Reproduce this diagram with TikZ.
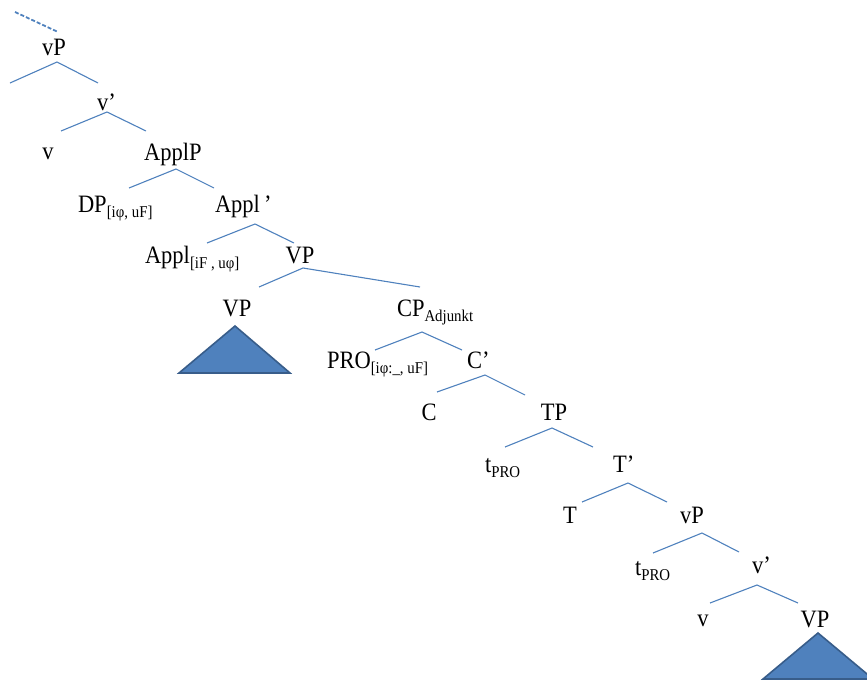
\documentclass[tikz,border=0pt]{standalone}
\usepackage{fontspec}
\setmainfont[FakeStretch=0.9]{Liberation Serif}
\definecolor{lineblue}{RGB}{79,129,189}
\definecolor{triborder}{RGB}{56,93,138}
\newcommand{\lbsub}[1]{\raisebox{-5pt}{\fontsize{16.5}{16.5}\selectfont #1}}
\begin{document}
\begin{tikzpicture}[x=1pt,y=-1pt,
  lbl/.style={inner sep=0pt,outer sep=0pt,font=\fontsize{25}{25}\selectfont,anchor=base},
  lblw/.style={lbl,anchor=base west},
  branch/.style={draw=lineblue,line width=1.1pt},
  tri/.style={fill=lineblue,draw=triborder,line width=1.6pt,line join=miter}]
\useasboundingbox (0,0) rectangle (867,680);
\clip (0,0) rectangle (867,680);
% labels
\node[lbl] (vP1) at (54,55) {vP};
\node[lblw] (vbar1) at (97,110) {v’};
\node[lbl] (v1) at (48,159) {v};
\node[lbl] (ApplP) at (173,160) {ApplP};
\node[lblw] (DP) at (78,212) {DP\lbsub{[iφ, uF]}};
\node[lblw] (Applbar) at (215,212) {Appl\,’};
\node[lblw] (Appl) at (145,263) {Appl\lbsub{[iF , uφ]}};
\node[lbl] (VP1) at (300,263) {VP};
\node[lbl] (VP2) at (237,316) {VP};
\node[lblw] (CP) at (397,316) {CP\lbsub{Adjunkt}};
\node[lblw] (PRO) at (327,368) {PRO\lbsub{[iφ:\_, uF]}};
\node[lblw] (Cbar) at (467,368) {C’};
\node[lbl] (C) at (429,420) {C};
\node[lbl] (TP) at (554,420) {TP};
\node[lblw] (t1) at (485,472) {t\lbsub{PRO}};
\node[lblw] (Tbar) at (613,472) {T’};
\node[lbl] (T) at (570,523) {T};
\node[lblw] (vP2) at (680,523) {vP};
\node[lblw] (t2) at (635,575) {t\lbsub{PRO}};
\node[lblw] (vbar2) at (752,573) {v’};
\node[lbl] (v2) at (703,626) {v};
\node[lbl] (VP3) at (815,627) {VP};
% dashed line at top
\coordinate (d0) at (15,12);
\coordinate (d1) at (58,32);
\draw[branch,line width=1.8pt,dash pattern=on 4pt off 2pt] (d0) -- (d1);
% branch coordinates: apex, left, right
\foreach \n/\ax/\ay/\lx/\ly/\rx/\ry in {
  a/57/62/10/83/98/83,
  b/107/112/61/131/146/131,
  c/176/169/129/188/214/188,
  d/255/224/207/243/294/243,
  e/303/268/259/287/420/287,
  f/422/332/375/350/462/350,
  g/485/375/437/392/525/395,
  h/552/428/505/447/593/447,
  i/628/483/582/502/667/502,
  j/702/533/653/553/739/552,
  k/757/585/710/603/798/603}{
  \coordinate (\n top) at (\ax,\ay);
  \coordinate (\n L) at (\lx,\ly);
  \coordinate (\n R) at (\rx,\ry);
  \draw[branch] (\n L) -- (\n top) -- (\n R);
}
% triangles
\coordinate (t1a) at (235,326);
\coordinate (t1l) at (179,373);
\coordinate (t1r) at (290,373);
\draw[tri] (t1a) -- (t1l) -- (t1r) -- cycle;
\coordinate (t2a) at (818,633);
\coordinate (t2l) at (763,679);
\coordinate (t2r) at (873,679);
\draw[tri] (t2a) -- (t2l) -- (t2r) -- cycle;
\end{tikzpicture}
\end{document}
